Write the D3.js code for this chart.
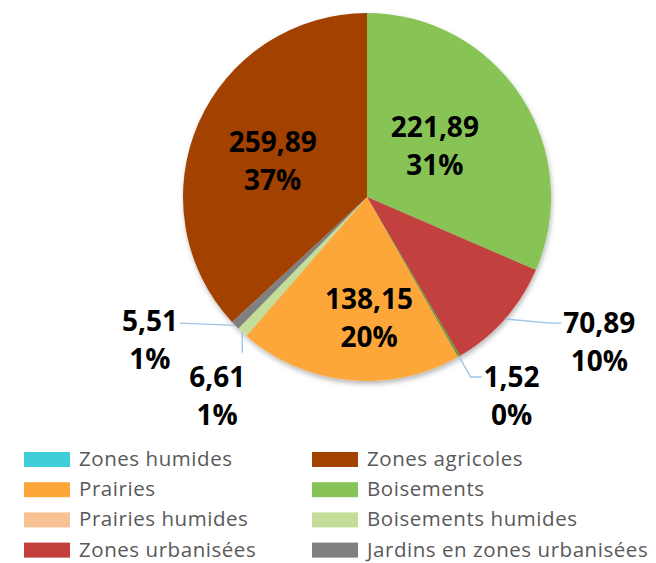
<!DOCTYPE html>
<html lang="fr">
  <head>
    <meta charset="utf-8">
    <title>Occupation du sol</title>
    <style>
      body { margin: 0; background: #fff; }
      .lbl { font-family: "Open Sans", sans-serif; font-weight: bold; font-size: 28px; fill: #000; }
      .legend text { font-family: "Open Sans", sans-serif; font-size: 20.5px; letter-spacing: 0.55px; fill: #595959; }
      .leader { fill: none; stroke: #9dc3e6; stroke-width: 1.3px; }
    </style>
  </head>
  <body>
    <svg width="656" height="563"></svg>
  <script src="https://cdn.jsdelivr.net/npm/d3@7"></script>
  <script>
  // slices, clockwise from 12 o'clock
  var categories = ["Boisements", "Zones urbanisées", "(sans légende)", "Prairies",
                    "Boisements humides", "Jardins en zones urbanisées", "Zones agricoles"];
  var values = [221.89, 70.89, 1.52, 138.15, 6.61, 5.51, 259.89];

  // legend, column by column
  var legendItems = ["Zones humides", "Prairies", "Prairies humides", "Zones urbanisées",
                     "Zones agricoles", "Boisements", "Boisements humides", "Jardins en zones urbanisées"];

  var colors = {
    "Zones humides": "#40cdd8",
    "Prairies": "#fda73a",
    "Prairies humides": "#f9c294",
    "Zones urbanisées": "#c23f3c",
    "Zones agricoles": "#a34300",
    "Boisements": "#88c357",
    "Boisements humides": "#c4dd98",
    "Jardins en zones urbanisées": "#808080",
    "(sans légende)": "#6e9a3c"
  };

  // label placement: polar position of the label block (deg clockwise from top, radius px)
  var labelAt = {
    "Zones agricoles": [291, 101, "in"],
    "Boisements": [53, 85, "in"],
    "Prairies": [179, 121, "in"],
    "Zones urbanisées": [122, 274, "right"],
    "(sans légende)": [144, 246, "right"],
    "Boisements humides": [217, 249, "below"],
    "Jardins en zones urbanisées": [236.6, 260, "left"]
  };

  var svg = d3.select("svg");
  var cx = 367, cy = 197, radius = 184;

  var total = d3.sum(values);
  var fr = d3.formatLocale({decimal: ",", thousands: " ", grouping: [3], currency: ["", " €"]});
  var fmtVal = fr.format(".2f");

  var data = categories.map(function(c, i) { return {name: c, value: values[i]}; });

  var defs = svg.append("defs");
  var f = defs.append("filter").attr("id", "shadow").attr("x", "-10%").attr("y", "-10%")
      .attr("width", "120%").attr("height", "120%");
  f.append("feDropShadow").attr("dx", 1).attr("dy", 3).attr("stdDeviation", 2.5)
      .attr("flood-color", "#000").attr("flood-opacity", 0.28);

  var pie = d3.pie().sort(null).value(function(d) { return d.value; });
  var arc = d3.arc().innerRadius(0).outerRadius(radius);
  var arcs = pie(data);

  var g = svg.append("g").attr("transform", "translate(" + cx + "," + cy + ")");

  g.append("g").attr("filter", "url(#shadow)")
    .selectAll("path").data(arcs).enter().append("path")
      .attr("d", arc)
      .attr("fill", function(d) { return colors[d.data.name]; });

  function polar(deg, r) {
    var a = deg * Math.PI / 180;
    return [r * Math.sin(a), -r * Math.cos(a)];
  }

  var lineGap = 38;
  arcs.forEach(function(d) {
    var pos = labelAt[d.data.name];
    if (!pos) return;
    var p = polar(pos[0], pos[1]);
    var t = g.append("text").attr("class", "lbl").attr("text-anchor", "middle");
    t.append("tspan").attr("x", p[0]).attr("y", p[1] - lineGap / 2 + 10)
      .text(fmtVal(d.data.value));
    t.append("tspan").attr("x", p[0]).attr("y", p[1] + lineGap / 2 + 10)
      .text(Math.round(d.data.value / total * 100) + "%");

    if (pos[2] === "in") return;
    var mid = (d.startAngle + d.endAngle) / 2 * 180 / Math.PI;
    var s = polar(mid, radius);
    var bb = t.node().getBBox();
    var pts;
    if (pos[2] === "right") {
      var ly = bb.y + 20;
      var ex = bb.x - 2;
      pts = [s, [ex - 11, ly], [ex, ly]];
    } else if (pos[2] === "below") {
      pts = [s, [s[0], bb.y - 4]];
    } else {
      var ly2 = bb.y + 22;
      pts = [s, [bb.x + bb.width + 2, ly2]];
    }
    g.insert("path", "text").attr("class", "leader").attr("d", d3.line()(pts));
  });

  // legend
  var lg = svg.append("g").attr("class", "legend");
  var colX = [24, 312], rowY = d3.range(4).map(function(i) { return 459.5 + i * 30.2; });
  legendItems.forEach(function(name, i) {
    var x = colX[Math.floor(i / 4)], y = rowY[i % 4];
    lg.append("rect").attr("x", x).attr("y", y - 7.5).attr("width", 46).attr("height", 15)
      .attr("fill", colors[name]);
    lg.append("text").attr("x", x + 55).attr("y", y + 6.5).text(name);
  });
  </script>
  </body>
</html>
